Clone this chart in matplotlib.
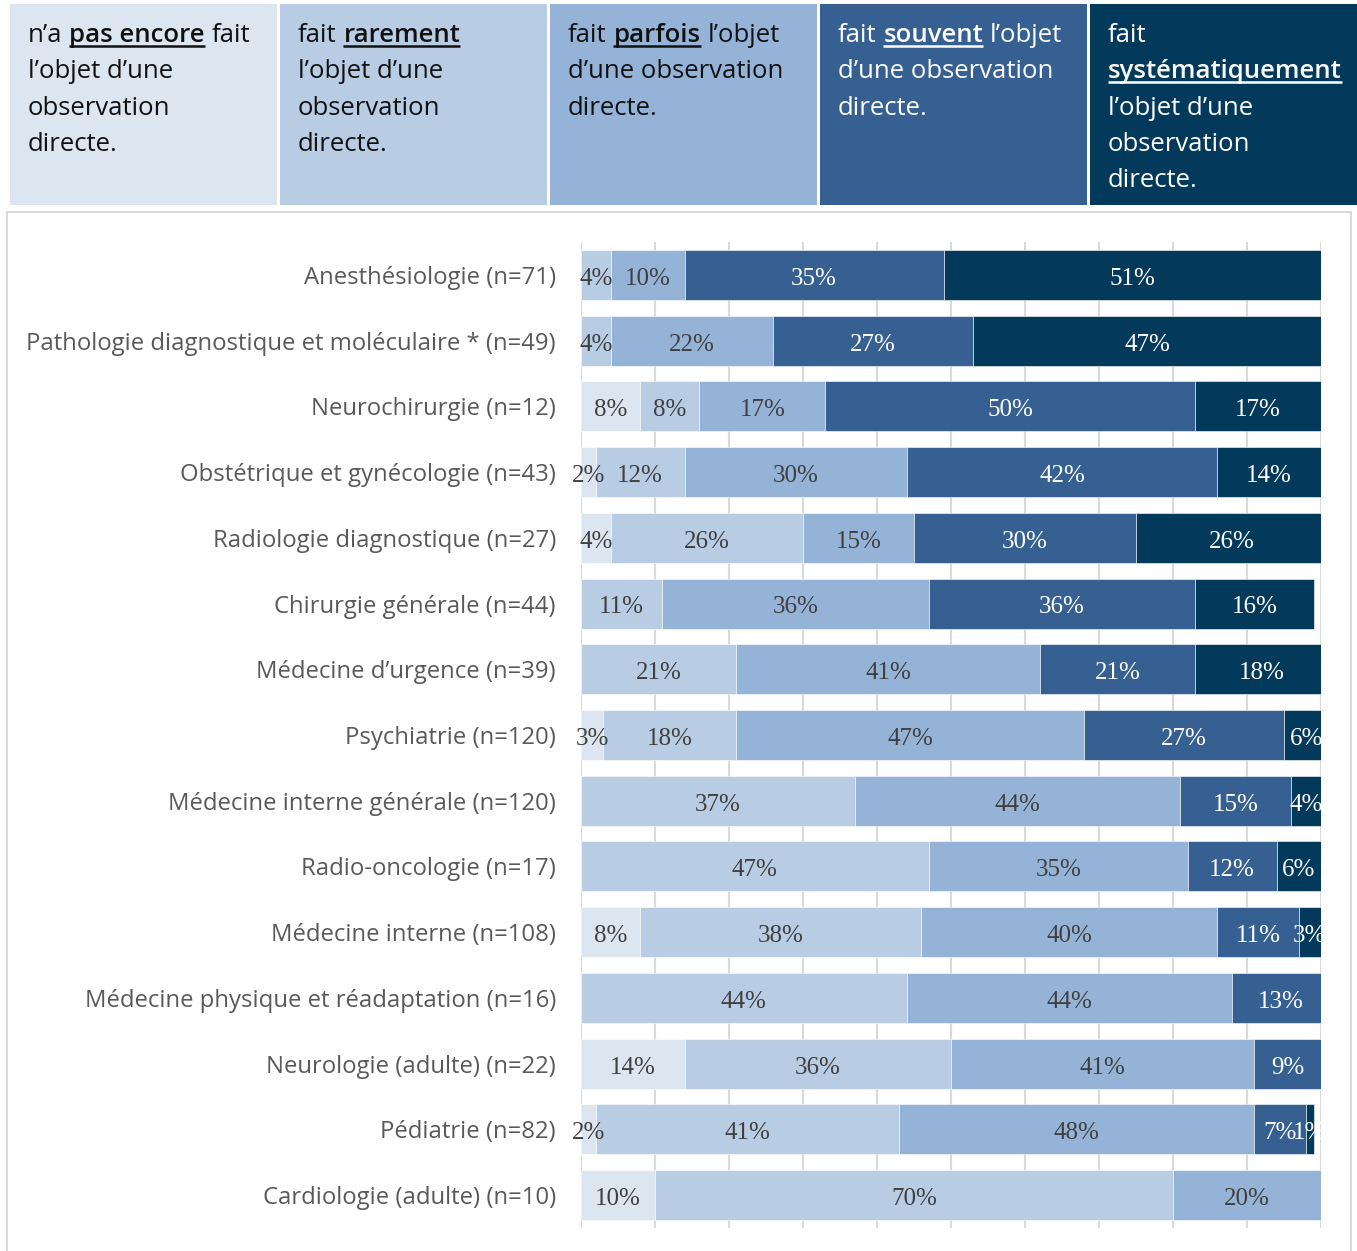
import numpy as np
import matplotlib
matplotlib.use("Agg")
import matplotlib.pyplot as plt
from matplotlib.patches import Rectangle
from matplotlib.transforms import Bbox, TransformedBbox

# Specialties, top to bottom
categories = [
    "Anesthésiologie (n=71)",
    "Pathologie diagnostique et moléculaire * (n=49)",
    "Neurochirurgie (n=12)",
    "Obstétrique et gynécologie (n=43)",
    "Radiologie diagnostique (n=27)",
    "Chirurgie générale (n=44)",
    "Médecine d’urgence (n=39)",
    "Psychiatrie (n=120)",
    "Médecine interne générale (n=120)",
    "Radio-oncologie (n=17)",
    "Médecine interne (n=108)",
    "Médecine physique et réadaptation (n=16)",
    "Neurologie (adulte) (n=22)",
    "Pédiatrie (n=82)",
    "Cardiologie (adulte) (n=10)",
]

# Percent per answer level (same order as categories)
pas_encore = [0, 0, 8, 2, 4, 0, 0, 3, 0, 0, 8, 0, 14, 2, 10]
rarement = [4, 4, 8, 12, 26, 11, 21, 18, 37, 47, 38, 44, 36, 41, 70]
parfois = [10, 22, 17, 30, 15, 36, 41, 47, 44, 35, 40, 44, 41, 48, 20]
souvent = [35, 27, 50, 42, 30, 36, 21, 27, 15, 12, 11, 13, 9, 7, 0]
systematique = [51, 47, 17, 14, 26, 16, 18, 6, 4, 6, 3, 0, 0, 1, 0]

series = [pas_encore, rarement, parfois, souvent, systematique]
colors = ["#DCE6F1", "#B8CCE4", "#95B3D7", "#366092", "#03395A"]
label_colors = ["#404040", "#404040", "#404040", "white", "white"]

# Legend header: each line is a list of (text, emphasised) pieces
header = [
    [[("n’a", False), ("pas encore", True), ("fait", False)],
     [("l’objet d’une", False)], [("observation", False)], [("directe.", False)]],
    [[("fait", False), ("rarement", True)],
     [("l’objet d’une", False)], [("observation", False)], [("directe.", False)]],
    [[("fait", False), ("parfois", True), ("l’objet", False)],
     [("d’une observation", False)], [("directe.", False)]],
    [[("fait", False), ("souvent", True), ("l’objet", False)],
     [("d’une observation", False)], [("directe.", False)]],
    [[("fait", False)], [("systématiquement", True)],
     [("l’objet d’une", False)], [("observation", False)], [("directe.", False)]],
]
header_text_colors = ["#111111", "#111111", "#111111", "white", "white"]

W, H = 1357, 1251
fig = plt.figure(figsize=(W / 100, H / 100), dpi=100)

# background layer in pixel coordinates
bg = fig.add_axes([0, 0, 1, 1])
bg.set_xlim(0, W)
bg.set_ylim(H, 0)
bg.axis("off")

bg.add_patch(Rectangle((7, 212), 1344, 60 + H, facecolor="white",
                       edgecolor="#D9D9D9", lw=1.5))

box_x = [10, 280, 550, 820, 1090]
box_w = 267
for x0, c in zip(box_x, colors):
    bg.add_patch(Rectangle((x0, 4), box_w, 201, facecolor=c, edgecolor="none"))

renderer = fig.canvas.get_renderer()
hfont = dict(family="Open Sans", fontsize=18.5)


def text_width(s, bold):
    t = bg.text(0, 0, s, fontweight="semibold" if bold else "normal", **hfont)
    bb = t.get_window_extent(renderer=renderer)
    t.remove()
    return bb.width


space_w = text_width("x x", False) - text_width("xx", False)

for x0, lines, tc in zip(box_x, header, header_text_colors):
    for i, pieces in enumerate(lines):
        y = 42 + i * 36.3
        cx = x0 + 18
        for j, (s, emph) in enumerate(pieces):
            if j > 0:
                cx += space_w
            bg.text(cx, y, s, color=tc, va="baseline", ha="left",
                    fontweight="semibold" if emph else "normal", **hfont)
            w = text_width(s, emph)
            if emph:
                bg.plot([cx, cx + w], [y + 4, y + 4], color=tc, lw=1.8,
                        solid_capstyle="butt")
            cx += w

# bar chart
ax = fig.add_axes([581 / W, 23 / H, 740 / W, 986 / H])
y = np.arange(len(categories))
left = np.zeros(len(categories))
clip = TransformedBbox(Bbox([[-0.2, 0], [1.0, 1]]), ax.transAxes)
for vals, c, lc in zip(series, colors, label_colors):
    vals = np.array(vals, dtype=float)
    ax.barh(y, vals, left=left, height=0.76, color=c, edgecolor="white",
            linewidth=0.4, zorder=2)
    for yi, (l, v) in enumerate(zip(left, vals)):
        if v > 0:
            t = ax.text(l + v / 2, yi + 0.06, f"{int(v)}%", ha="center",
                        va="center", color=lc, family="Liberation Serif",
                        fontsize=18, zorder=3)
            t.set_clip_box(clip)
    left += vals

ax.set_xlim(0, 100)
ax.set_ylim(len(categories) - 0.5, -0.5)
ax.set_xticks(np.arange(0, 101, 10))
ax.set_xticklabels([])
ax.set_yticks(y)
ax.set_yticklabels(categories, family="Open Sans", fontsize=17.2, color="#595959")
ax.tick_params(axis="both", length=0)
ax.tick_params(axis="y", pad=18)
ax.grid(axis="x", color="#D9D9D9", lw=1.5, zorder=0)
ax.set_axisbelow(True)
for s in ax.spines.values():
    s.set_visible(False)
ax.patch.set_alpha(0)

fig.savefig("out.png", dpi=100)
